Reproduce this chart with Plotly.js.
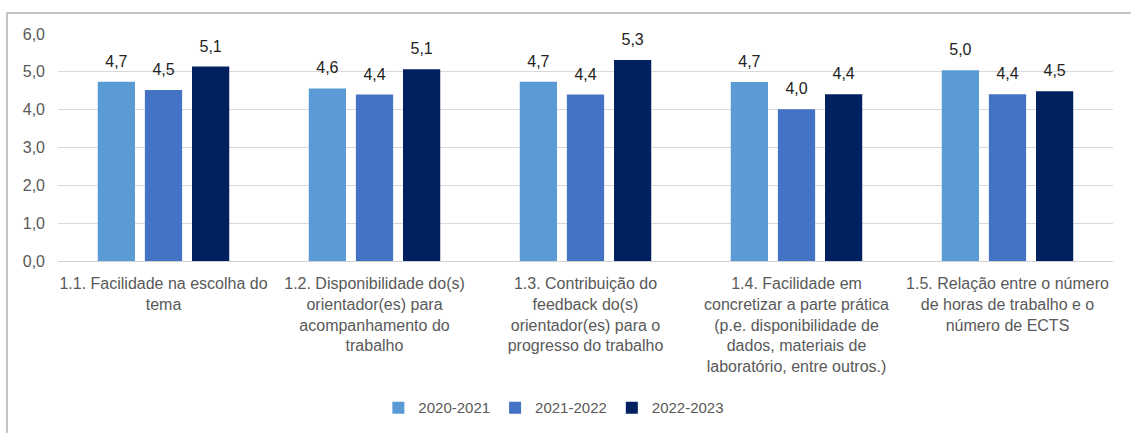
<!DOCTYPE html>
<html>
<head>
<meta charset="utf-8">
<script src="https://cdn.plot.ly/plotly-3.0.1.min.js"></script>
<style>
  html, body { margin: 0; padding: 0; background: #fff; }
  #wrap { position: relative; width: 1131px; height: 433px; }
  #chart { position: absolute; left: 0; top: 0; width: 1131px; height: 433px; }
  #frame { position: absolute; left: 6px; top: 12px; right: 0; bottom: 0;
           border-left: 2px solid #c4c4c4; border-top: 2px solid #c4c4c4; pointer-events: none; }
</style>
</head>
<body>
<div id="wrap">
  <div id="chart"></div>
  <div id="frame"></div>
</div>
<script>
const categories = [
  "1.1. Facilidade na escolha do<br>tema",
  "1.2. Disponibilidade do(s)<br>orientador(es) para<br>acompanhamento do<br>trabalho",
  "1.3. Contribuição do<br>feedback do(s)<br>orientador(es) para o<br>progresso do trabalho",
  "1.4. Facilidade em<br>concretizar a parte prática<br>(p.e. disponibilidade de<br>dados, materiais de<br>laboratório, entre outros.)",
  "1.5. Relação entre o número<br>de horas de trabalho e o<br>número de ECTS"
];
const seriesNames = ["2020-2021", "2021-2022", "2022-2023"];
const values2020_2021 = [4.74, 4.56, 4.74, 4.73, 5.04];
const values2021_2022 = [4.52, 4.40, 4.40, 4.01, 4.41];
const values2022_2023 = [5.14, 5.07, 5.31, 4.41, 4.49];
const yTickVals = [0, 1, 2, 3, 4, 5, 6];

const allValues = [values2020_2021, values2021_2022, values2022_2023];
const colors = ["#5B9BD5", "#4472C4", "#002060"];
const FONT = "Liberation Sans, Arial, Helvetica, sans-serif";

const traces = [];
allValues.forEach((vals, i) => {
  traces.push({
    type: "bar",
    name: seriesNames[i],
    x: categories,
    y: vals,
    marker: { color: colors[i], line: { width: 0 } },
    hoverinfo: "skip"
  });
});
allValues.forEach((vals, i) => {
  traces.push({
    type: "scatter",
    mode: "markers+text",
    x: categories,
    y: vals,
    text: vals.map(v => v.toFixed(1).replace(".", ",")),
    textposition: "top center",
    textfont: { family: FONT, size: 16, color: "#222222" },
    marker: { size: 16, opacity: 0 },
    showlegend: false,
    hoverinfo: "skip",
    cliponaxis: false
  });
});

const layout = {
  width: 1131,
  height: 433,
  margin: { l: 58, r: 18, t: 34, b: 172 },
  paper_bgcolor: "rgba(0,0,0,0)",
  plot_bgcolor: "#ffffff",
  separators: ",.",
  barmode: "group",
  bargap: 0.33,
  bargroupgap: 0.21,
  scattermode: "group",
  scattergap: 0.33,
  showlegend: true,
  hovermode: false,
  font: { family: FONT, color: "#595959" },
  xaxis: {
    type: "category",
    showgrid: false,
    showline: false,
    zeroline: false,
    ticks: "",
    tickfont: { family: FONT, size: 16, color: "#595959" },
    tickangle: 0,
    ticklabelstandoff: 11,
    automargin: false
  },
  yaxis: {
    range: [0, 6],
    tickvals: yTickVals,
    tickformat: ".1f",
    showgrid: true,
    gridcolor: "#d9d9d9",
    gridwidth: 1,
    zeroline: true,
    zerolinecolor: "#d0d0d0",
    zerolinewidth: 1,
    showline: false,
    ticks: "",
    tickfont: { family: FONT, size: 16, color: "#595959" },
    ticklabelstandoff: 12,
    automargin: false
  },
  legend: {
    orientation: "h",
    x: 0.47,
    xanchor: "center",
    yref: "container",
    y: 0.058,
    yanchor: "middle",
    font: { family: FONT, size: 15, color: "#595959" },
    itemwidth: 30,
    traceorder: "normal"
  }
};

Plotly.newPlot("chart", traces, layout, { staticPlot: true, displayModeBar: false });
</script>
</body>
</html>
